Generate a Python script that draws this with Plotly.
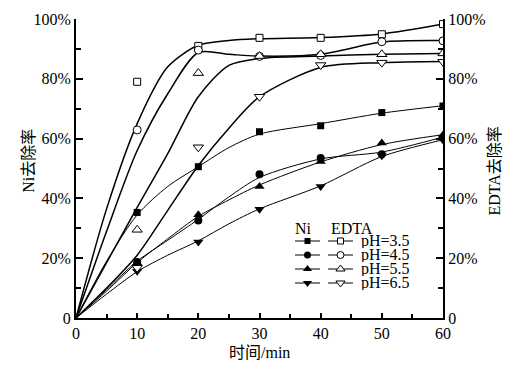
import plotly.graph_objects as go

# ---------------- data ----------------
t_obs = [10, 20, 30, 40, 50, 60]
ni_35 = [35.3, 50.6, 62.3, 64.3, 68.7, 70.9]
ni_45 = [18.7, 32.6, 48.1, 53.5, 54.8, 60.3]
ni_55 = [18.5, 34.5, 44.0, 52.3, 58.5, 61.2]
ni_65 = [15.6, 25.4, 36.4, 44.0, 54.3, 59.5]
edta_35 = [79.0, 91.0, 93.7, 93.7, 94.9, 98.3]
edta_45 = [62.9, 89.6, 87.5, 87.8, 92.4, 92.7]
edta_55 = [29.5, 81.9, 87.6, 88.2, 88.2, 88.5]
edta_65 = [16.8, 57.1, 74.0, 84.6, 85.4, 85.7]

# fitted curves
t_fit = [0, 5, 10, 15, 20, 25, 30, 40, 50, 60]
ni_35_fit = [0, 19, 34.5, 44, 50.6, 57, 61.5, 65, 68.5, 71]
ni_45_fit = [0, 9.5, 19, 26, 33, 40.5, 47, 53.2, 55.5, 60.5]
ni_55_fit = [0, 9, 18.5, 26.5, 34, 39.5, 44.5, 52.2, 58, 61.3]
ni_65_fit = [0, 8, 15.5, 21, 25.8, 31.5, 36.5, 44.2, 54, 59.6]
edta_35_fit = [0, 36.5, 65, 84, 91.2, 92.8, 93.4, 93.8, 95.0, 98.3]
edta_45_fit = [0, 29, 56, 75, 88.8, 88.2, 87.6, 88.2, 92.3, 92.8]
edta_55_fit = [0, 18.5, 37, 55, 74, 84.5, 86.8, 87.6, 88.2, 88.5]
edta_65_fit = [0, 10, 21, 36, 51, 63.5, 74, 83.8, 85.4, 85.8]

ph_labels = ["pH=3.5", "pH=4.5", "pH=5.5", "pH=6.5"]
x_ticks = [0, 10, 20, 30, 40, 50, 60]
y_ticks = [0, 20, 40, 60, 80, 100]
y_ticktext = ["0", "20%", "40%", "60%", "80%", "100%"]

# ---------------- styling ----------------
FONT = "Liberation Serif, Times New Roman, Noto Sans CJK SC, serif"
BLACK = "#000000"
syms = ["square", "circle", "triangle-up", "triangle-down"]
sym_size = {"square": 7, "circle": 8, "triangle-up": 9, "triangle-down": 9}

fig = go.Figure()

ni_obs = [ni_35, ni_45, ni_55, ni_65]
ni_fit = [ni_35_fit, ni_45_fit, ni_55_fit, ni_65_fit]
ed_obs = [edta_35, edta_45, edta_55, edta_65]
ed_fit = [edta_35_fit, edta_45_fit, edta_55_fit, edta_65_fit]

for i in range(4):
    fig.add_trace(go.Scatter(x=t_fit, y=ni_fit[i], mode="lines",
                             line=dict(color=BLACK, width=1.0, shape="spline", smoothing=0.8),
                             showlegend=False, hoverinfo="skip"))
    fig.add_trace(go.Scatter(x=t_fit, y=ed_fit[i], mode="lines", yaxis="y2",
                             line=dict(color=BLACK, width=1.5, shape="spline", smoothing=0.8),
                             showlegend=False, hoverinfo="skip"))

for i in range(4):
    fig.add_trace(go.Scatter(x=t_obs, y=ni_obs[i], mode="markers",
                             marker=dict(symbol=syms[i], size=sym_size[syms[i]], color=BLACK,
                                         line=dict(width=0)),
                             name="Ni " + ph_labels[i], showlegend=False))
    fig.add_trace(go.Scatter(x=t_obs, y=ed_obs[i], mode="markers", yaxis="y2",
                             marker=dict(symbol=syms[i], size=sym_size[syms[i]], color="white",
                                         line=dict(width=1, color=BLACK)),
                             name="EDTA " + ph_labels[i], showlegend=False))

# ---------------- custom legend (pixel-like overlay axes) ----------------
L_TOP = 241
L_STEP = 14
for i in range(4):
    yy = L_TOP + i * L_STEP
    for (x0, x1, filled) in [(295, 320, True), (328, 353, False)]:
        fig.add_trace(go.Scatter(x=[x0, x1], y=[yy, yy], xaxis="x2", yaxis="y3", mode="lines",
                                 line=dict(color=BLACK, width=1), showlegend=False, hoverinfo="skip"))
        sym = syms[i]
        fig.add_trace(go.Scatter(x=[(x0 + x1) / 2], y=[yy], xaxis="x2", yaxis="y3", mode="markers",
                                 marker=dict(symbol=sym, size=sym_size[sym] - 1,
                                             color=BLACK if filled else "white",
                                             line=dict(width=0 if filled else 1, color=BLACK)),
                                 showlegend=False, hoverinfo="skip"))
    fig.add_annotation(x=360, y=yy, xref="x2", yref="y3", text=ph_labels[i], showarrow=False,
                       xanchor="left", yanchor="middle", height=14, borderpad=0,
                       font=dict(family=FONT, size=16, color=BLACK))
fig.add_annotation(x=303, y=L_TOP - 13, xref="x2", yref="y3", text="Ni", showarrow=False,
                   xanchor="center", yanchor="middle", height=14, borderpad=0,
                   font=dict(family=FONT, size=16, color=BLACK))
fig.add_annotation(x=352, y=L_TOP - 13, xref="x2", yref="y3", text="EDTA", showarrow=False,
                   xanchor="center", yanchor="middle", height=14, borderpad=0,
                   font=dict(family=FONT, size=16, color=BLACK))

# ---------------- axis titles ----------------
fig.add_annotation(x=0.5, y=-0.115, xref="paper", yref="paper", text="时间/min", showarrow=False,
                   xanchor="center", yanchor="middle", font=dict(family=FONT, size=16, color=BLACK))
fig.add_annotation(x=-0.13, y=0.527, xref="paper", yref="paper", text="Ni去除率", showarrow=False,
                   textangle=-90, xanchor="center", yanchor="middle",
                   font=dict(family=FONT, size=16, color=BLACK))
fig.add_annotation(x=1.139, y=0.49, xref="paper", yref="paper", text="EDTA去除率", showarrow=False,
                   textangle=-90, xanchor="center", yanchor="middle",
                   font=dict(family=FONT, size=16, color=BLACK))

tickfont = dict(family=FONT, size=16, color=BLACK)
fig.update_layout(
    width=518, height=371,
    margin=dict(l=76, r=75, t=19, b=53),
    paper_bgcolor="white", plot_bgcolor="white",
    showlegend=False,
    xaxis=dict(range=[0, 60], tickvals=x_ticks, ticks="inside", ticklen=5, tickwidth=1.5,
               tickcolor=BLACK, showline=True, linecolor=BLACK, linewidth=2, showgrid=False,
               zeroline=False, tickfont=tickfont, fixedrange=True,
               minor=dict(dtick=5, ticks="inside", ticklen=4, tickwidth=1.5, tickcolor=BLACK)),
    yaxis=dict(range=[0, 100], tickvals=y_ticks, ticktext=y_ticktext, ticks="inside", ticklen=7,
               tickwidth=1.5, tickcolor=BLACK, showline=True, linecolor=BLACK, linewidth=2,
               showgrid=False, zeroline=False, tickfont=tickfont, fixedrange=True,
               minor=dict(dtick=10, ticks="inside", ticklen=5, tickwidth=1.5, tickcolor=BLACK)),
    yaxis2=dict(range=[0, 100], overlaying="y", side="right", tickvals=y_ticks, ticktext=y_ticktext,
                ticks="inside", ticklen=7, tickwidth=1.5, tickcolor=BLACK, showline=True,
                linecolor=BLACK, linewidth=2, showgrid=False, zeroline=False, tickfont=tickfont,
                fixedrange=True,
                minor=dict(dtick=10, ticks="inside", ticklen=5, tickwidth=1.5, tickcolor=BLACK)),
    xaxis2=dict(range=[76, 443], overlaying="x", visible=False, fixedrange=True),
    yaxis3=dict(range=[318, 19], overlaying="y", visible=False, fixedrange=True),
)

fig.write_html("out.html", config={"displayModeBar": False},
               post_script="document.body.style.margin='0';document.body.style.overflow='hidden';")
